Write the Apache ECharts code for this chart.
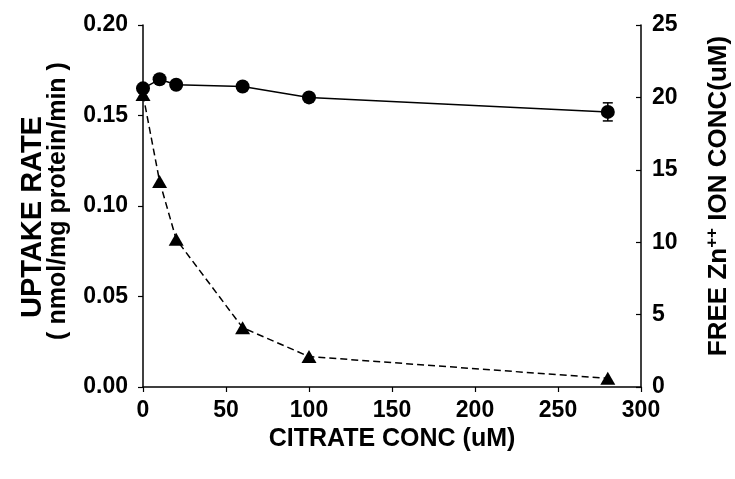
<!DOCTYPE html>
<html>
<head>
<meta charset="utf-8">
<script src="https://cdn.jsdelivr.net/npm/echarts@6/dist/echarts.min.js"></script>
<style>
html, body { margin: 0; padding: 0; background: #fff; }
#chart { width: 735px; height: 479px; }
</style>
</head>
<body>
<div id="chart"></div>
<script>
var citrate = [0, 10, 20, 60, 100, 280];
var uptake = [0.165, 0.170, 0.167, 0.166, 0.160, 0.152];
var uptakeErr = [0.002, 0.002, 0.002, 0.002, 0.002, 0.005];
var freeZn = [20.2, 14.2, 10.2, 4.1, 2.1, 0.6];

var xTicks = [0, 50, 100, 150, 200, 250, 300];
var leftTicks = [0, 0.05, 0.10, 0.15, 0.20];
var rightTicks = [0, 5, 10, 15, 20, 25];

var font = "'Liberation Sans', Arial, sans-serif";

var chart = echarts.init(document.getElementById('chart'));

var uptakeData = citrate.map(function (c, i) { return [c, uptake[i]]; });
var znData = citrate.map(function (c, i) { return [c, freeZn[i]]; });
var errData = citrate.map(function (c, i) {
    return [c, uptake[i] - uptakeErr[i], uptake[i] + uptakeErr[i]];
});

var tickLabel = {
    color: '#000',
    fontFamily: font,
    fontWeight: 'bold',
    fontSize: 23
};

var option = {
    animation: false,
    backgroundColor: '#fff',
    grid: {
        left: 143,
        right: 94,
        top: 25,
        bottom: 92,
        outerBoundsMode: 'none'
    },
    xAxis: {
        type: 'value',
        min: xTicks[0],
        max: xTicks[xTicks.length - 1],
        interval: 50,
        name: 'CITRATE CONC (uM)',
        nameLocation: 'middle',
        nameGap: 36,
        nameTextStyle: { color: '#000', fontFamily: font, fontWeight: 'bold', fontSize: 25 },
        axisLine: { lineStyle: { color: '#000', width: 1.5 } },
        axisTick: { length: 5, lineStyle: { color: '#000', width: 1.2 } },
        axisLabel: Object.assign({ margin: 12 }, tickLabel),
        splitLine: { show: false }
    },
    yAxis: [
        {
            type: 'value',
            position: 'left',
            min: leftTicks[0],
            max: leftTicks[leftTicks.length - 1],
            interval: 0.05,
            name: '{a|UPTAKE RATE}\n{b|( nmol/mg protein/min )}',
            nameLocation: 'middle',
            nameRotate: 90,
            nameGap: 73,
            nameTextStyle: {
                color: '#000',
                fontFamily: font,
                fontWeight: 'bold',
                rich: {
                    // padding nudges each line along the axis like the reference
                    a: { fontFamily: font, fontWeight: 'bold', fontSize: 29, lineHeight: 26, color: '#000', padding: [0, 22, 0, 0] },
                    b: { fontFamily: font, fontWeight: 'bold', fontSize: 25, lineHeight: 24, color: '#000', padding: [0, 0, 0, 10] }
                }
            },
            axisLine: { show: true, lineStyle: { color: '#000', width: 1.5 } },
            axisTick: { show: true, length: 5, lineStyle: { color: '#000', width: 1.2 } },
            axisLabel: Object.assign({
                margin: 15,
                formatter: function (v) { return v.toFixed(2); }
            }, tickLabel),
            splitLine: { show: false }
        },
        {
            type: 'value',
            position: 'right',
            min: rightTicks[0],
            max: rightTicks[rightTicks.length - 1],
            interval: 5,
            name: '{m|FREE Zn}{s|++}{m| ION CONC(uM)}',
            nameLocation: 'middle',
            nameRotate: 90,
            nameGap: 63,
            nameTextStyle: {
                color: '#000',
                fontFamily: font,
                fontWeight: 'bold',
                padding: [0, 0, 0, 20],
                rich: {
                    m: { fontFamily: font, fontWeight: 'bold', fontSize: 26, lineHeight: 30, color: '#000' },
                    s: { fontFamily: font, fontWeight: 'bold', fontSize: 17, lineHeight: 16, verticalAlign: 'top', color: '#000' }
                }
            },
            axisLine: { show: true, lineStyle: { color: '#000', width: 1.5 } },
            axisTick: { show: true, inside: true, length: 5, lineStyle: { color: '#000', width: 1.2 } },
            axisLabel: Object.assign({ margin: 11 }, tickLabel),
            splitLine: { show: false }
        }
    ],
    series: [
        {
            name: 'free zn',
            type: 'line',
            yAxisIndex: 1,
            data: znData,
            symbol: 'triangle',
            symbolSize: [15, 13],
            itemStyle: { color: '#000' },
            lineStyle: { color: '#000', width: 1.5, type: [7, 4] },
            z: 3
        },
        {
            name: 'uptake err',
            type: 'custom',
            yAxisIndex: 0,
            data: errData,
            renderItem: function (params, api) {
                var lo = api.coord([api.value(0), api.value(1)]);
                var hi = api.coord([api.value(0), api.value(2)]);
                var cap = 5;
                var st = { stroke: '#000', lineWidth: 1.5 };
                return {
                    type: 'group',
                    children: [
                        { type: 'line', shape: { x1: lo[0], y1: lo[1], x2: hi[0], y2: hi[1] }, style: st },
                        { type: 'line', shape: { x1: lo[0] - cap, y1: lo[1], x2: lo[0] + cap, y2: lo[1] }, style: st },
                        { type: 'line', shape: { x1: hi[0] - cap, y1: hi[1], x2: hi[0] + cap, y2: hi[1] }, style: st }
                    ]
                };
            },
            z: 4
        },
        {
            name: 'uptake',
            type: 'line',
            yAxisIndex: 0,
            data: uptakeData,
            symbol: 'circle',
            symbolSize: 14,
            itemStyle: { color: '#000' },
            lineStyle: { color: '#000', width: 1.5 },
            z: 5
        }
    ]
};

chart.setOption(option);
</script>
</body>
</html>
